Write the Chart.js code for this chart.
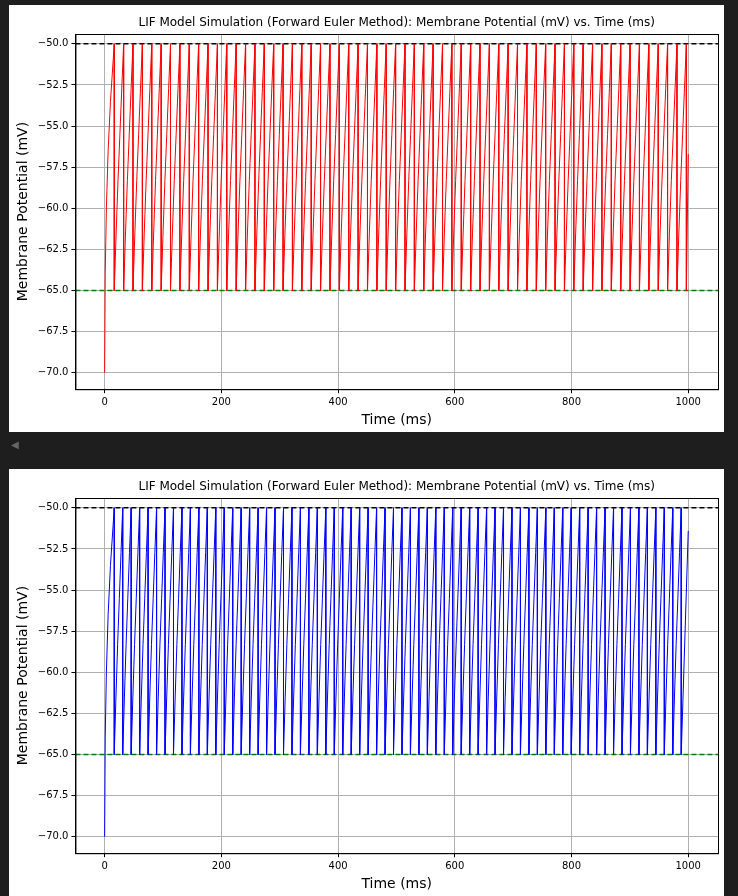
<!DOCTYPE html>
<html><head><meta charset="utf-8">
<script src="https://cdn.jsdelivr.net/npm/chart.js@4.4.0/dist/chart.umd.min.js"></script>
<style>
body{margin:0;background:#1e1e1e;width:738px;height:896px;position:relative;overflow:hidden;font-family:"DejaVu Sans",sans-serif}
.p{position:absolute;left:9px;width:715px;height:427px;background:#fff}
#p1{top:5px}#p2{top:469px}
.arr{position:absolute;left:11px;top:439px;color:#666;font-size:10px}
</style></head><body>
<div class="p" id="p1"><canvas id="c1" width="715" height="427"></canvas></div>
<div class="arr">◀</div>
<div class="p" id="p2"><canvas id="c2" width="715" height="427"></canvas></div>
<script>
const TITLE = "LIF Model Simulation (Forward Euler Method): Membrane Potential (mV) vs. Time (ms)";
const xTicks = [0,200,400,600,800,1000];
const yTicks = [-50,-52.5,-55,-57.5,-60,-62.5,-65,-67.5,-70];
const vThreshold = -50, vReset = -65;
// spike times (ms)
const redSpikes = [16.5,32.6,48.6,64.7,80.8,96.9,112.9,129.0,145.1,161.1,177.2,193.3,209.3,225.4,241.5,257.6,273.6,289.7,305.8,321.8,337.9,354.0,370.0,386.1,402.2,418.3,434.3,450.4,466.5,482.5,498.6,514.7,530.7,546.8,562.9,579.0,595.0,611.1,627.2,643.2,659.3,675.4,691.4,707.5,723.6,739.7,755.7,771.8,787.9,803.9,820.0,836.1,852.1,868.2,884.3,900.4,916.4,932.5,948.6,964.6,980.7,996.8];
const blueSpikes = [16.5,31.0,45.5,60.0,74.5,89.0,103.5,118.0,132.5,147.0,161.5,176.0,190.5,205.0,219.5,234.0,248.5,263.0,277.5,292.0,306.5,321.0,335.5,350.0,364.5,379.0,393.5,408.0,422.5,437.0,451.5,466.0,480.5,495.0,509.5,524.0,538.5,553.0,567.5,582.0,596.5,611.0,625.5,640.0,654.5,669.0,683.5,698.0,712.5,727.0,741.5,756.0,770.5,785.0,799.5,814.0,828.5,843.0,857.5,872.0,886.5,901.0,915.5,930.0,944.5,959.0,973.5,988.0];
// initial rise from -70 (time ms, mV)
const firstRiseT = [0,1,3,6,10,16.5];
const firstRiseV = [-70,-64,-60,-56.5,-53.5,-50];
// rise within one interspike interval (fraction of interval, mV)
const cycleFrac = [0,0.2,0.4,0.6,0.8,1];
const cycleV = [-65,-61.5,-58.3,-55.5,-52.7,-50];
const redEnd = [1000,-56.7];
const blueEnd = [1000,-51.4];

function trace(spikes,end){
  const pts=[];
  for(let i=0;i<firstRiseT.length;i++)pts.push({x:firstRiseT[i],y:firstRiseV[i]});
  for(let s=0;s<spikes.length;s++){
    const t0=spikes[s];
    pts.push({x:t0,y:vReset});
    if(s+1<spikes.length){
      const d=spikes[s+1]-t0;
      for(let i=1;i<cycleFrac.length;i++)pts.push({x:t0+cycleFrac[i]*d,y:cycleV[i]});
    }
  }
  pts.push({x:end[0],y:end[1]});
  return pts;
}
const frame={id:'frame',afterDraw(c){const a=c.chartArea,x=c.ctx;x.save();x.strokeStyle='#000';x.lineWidth=1;x.strokeRect(a.left+0.5,a.top+0.5,a.right-a.left,a.bottom-a.top);
  x.fillStyle='#000';x.font='12px "DejaVu Sans"';x.textAlign='center';x.textBaseline='bottom';x.fillText(TITLE,(a.left+a.right)/2,a.top-5);x.restore();}};
function make(id,spikes,end,color){
  new Chart(document.getElementById(id),{
    type:'scatter',
    data:{datasets:[
      {data:trace(spikes,end),borderColor:color,borderWidth:1,showLine:true,pointRadius:0,tension:0},
      {data:[{x:-50,y:vThreshold},{x:1051,y:vThreshold}],borderColor:'#000',borderWidth:1.5,borderDash:[5,3],showLine:true,pointRadius:0},
      {data:[{x:-50,y:vReset},{x:1051,y:vReset}],borderColor:'#008000',borderWidth:1.5,borderDash:[5,3],showLine:true,pointRadius:0}
    ]},
    plugins:[frame],
    options:{responsive:false,animation:false,
      layout:{padding:{left:2,right:6,top:29,bottom:0}},
      plugins:{legend:{display:false},tooltip:{enabled:false},title:{display:false}},
      scales:{
        x:{type:'linear',min:-50,max:1051,afterBuildTicks(a){a.ticks=xTicks.map(v=>({value:v}));},
          grid:{color:'#b0b0b0',tickColor:'#000',tickLength:4},border:{color:'#000'},
          ticks:{color:'#000',font:{family:'DejaVu Sans',size:10},maxRotation:0,callback:v=>String(v)},
          title:{display:true,text:'Time (ms)',color:'#000',font:{family:'DejaVu Sans',size:14},padding:{top:1,bottom:3}}},
        y:{min:-71,max:-49.4,afterBuildTicks(a){a.ticks=yTicks.map(v=>({value:v}));},
          grid:{color:'#b0b0b0',tickColor:'#000',tickLength:4},border:{color:'#000'},
          ticks:{color:'#000',font:{family:'DejaVu Sans',size:10},callback:v=>(v<0?'\u2212':'')+Math.abs(v).toFixed(1)},
          title:{display:true,text:'Membrane Potential (mV)',color:'#000',font:{family:'DejaVu Sans',size:14},padding:{bottom:3}}}
      }}
  });
}
make('c1',redSpikes,redEnd,'#ff0000');
make('c2',blueSpikes,blueEnd,'#0000ff');
</script></body></html>
